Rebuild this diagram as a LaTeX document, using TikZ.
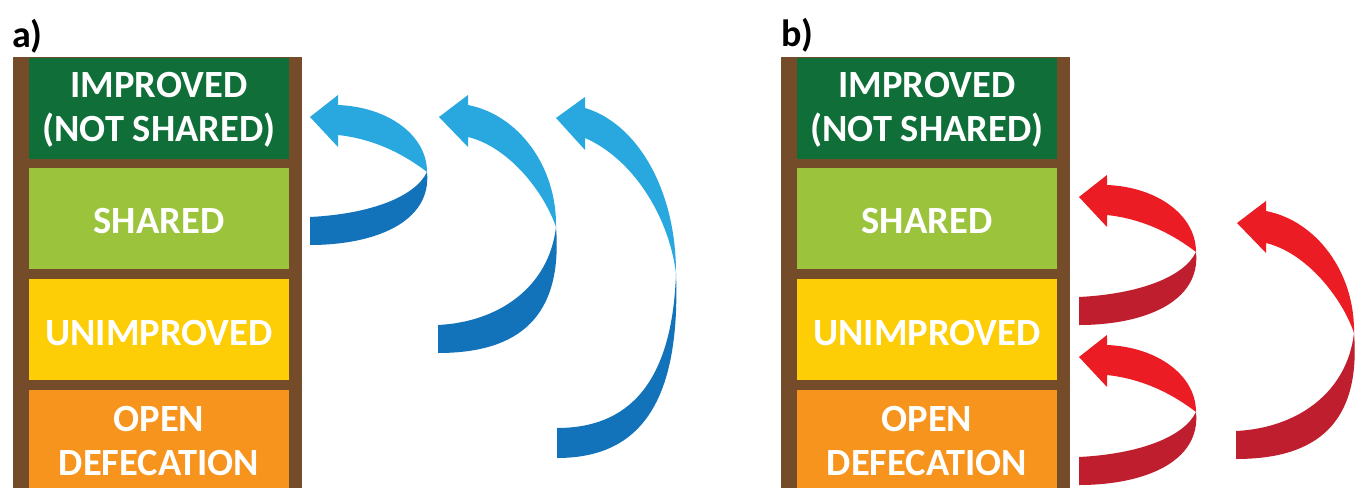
\documentclass[tikz,border=0pt]{standalone}
\usepackage{fontspec}
\setmainfont{Carlito}
\definecolor{brownR}{HTML}{754C29}
\definecolor{dgreen}{HTML}{106F38}
\definecolor{lgreen}{HTML}{9CC33C}
\definecolor{yellowB}{HTML}{FDCD06}
\definecolor{orangeB}{HTML}{F6941D}
\definecolor{blueL}{HTML}{29A8E0}
\definecolor{blueD}{HTML}{1273BA}
\definecolor{redL}{HTML}{EC1C24}
\definecolor{redD}{HTML}{BE1E2D}
\tikzset{
  box/.style={minimum width=260pt, minimum height=101pt, inner sep=0pt},
  txt/.style={inner sep=0pt, text=white, align=center,
    font=\bfseries\fontsize{38.5}{44}\selectfont},
  lbl/.style={inner sep=0pt, text=black, font=\bfseries\fontsize{38}{44}\selectfont},
  rail/.style={fill=brownR},
  blueribbon/.style={rl/.style={fill=blueL}, rd/.style={fill=blueD}},
  redribbon/.style={rl/.style={fill=redL}, rd/.style={fill=redD}},
  ribA/.pic={
    \fill[rl] (0,0) -- (28,-22) -- (28,-12) .. controls (78,-10) and (117,18) .. (117,55)
      .. controls (95,38) and (65,22) .. (28,18) -- (28,30) -- cycle;
    \fill[rd] (117,55) .. controls (105,80) and (60,97) .. (0,100) -- (0,128)
      .. controls (65,128) and (122,105) .. (117,55) -- cycle;
  },
  ribB/.pic={
    \fill[rl] (0,0) -- (29,-22) -- (29,-12) .. controls (80,-2) and (118,50) .. (117,110)
      .. controls (105,75) and (70,30) .. (29,20) -- (29,30) -- cycle;
    \fill[rd] (117,110) .. controls (110,170) and (60,205) .. (-1,208) -- (-1,236)
      .. controls (80,236) and (124,200) .. (117,110) -- cycle;
  },
  ribC/.pic={
    \fill[rl] (0,0) -- (29,-21) -- (29,-10) .. controls (80,5) and (120,70) .. (120,155)
      .. controls (112,95) and (75,40) .. (29,20) -- (29,32) -- cycle;
    \fill[rd] (120,155) .. controls (116,280) and (60,310) .. (1,310) -- (1,340)
      .. controls (80,340) and (125,290) .. (120,155) -- cycle;
  }
}
\begin{document}
\begin{tikzpicture}[x=1pt,y=-1pt]
\useasboundingbox (0,0) rectangle (1359,487);
\clip (0,0) rectangle (1359,487);
% panel a
\node[lbl] (la) at (27.5,36) {a)};
\fill[rail] (13,57) rectangle (302,500);
\node[box, fill=dgreen] (aimp) at (159,108.5) {};
\node[box, fill=lgreen] (ashr) at (159,218.7) {};
\node[box, fill=yellowB] (auni) at (159,329.3) {};
\node[box, fill=orangeB] (aopn) at (159,440.5) {};
\node[txt] (aimpT) at ([yshift=-1.5pt]aimp.center) {IMPROVED\\(NOT SHARED)};
\node[txt] (ashrT) at ([yshift=-2.5pt]ashr.center) {SHARED};
\node[txt] (auniT) at ([yshift=-4pt]auni.center) {UNIMPROVED};
\node[txt] (aopnT) at ([yshift=-0.5pt]aopn.center) {OPEN\\DEFECATION};
\pic[blueribbon] at (310,117) {ribA};
\pic[blueribbon] at (439,117) {ribB};
\pic[blueribbon] at (556,118) {ribC};
% panel b
\node[lbl] (lb) at (797.5,35) {b)};
\fill[rail] (781,57) rectangle (1070,500);
\node[box, fill=dgreen] (bimp) at (927,108.5) {};
\node[box, fill=lgreen] (bshr) at (927,218.7) {};
\node[box, fill=yellowB] (buni) at (927,329.3) {};
\node[box, fill=orangeB] (bopn) at (927,440.5) {};
\node[txt] (bimpT) at ([yshift=-1.5pt]bimp.center) {IMPROVED\\(NOT SHARED)};
\node[txt] (bshrT) at ([yshift=-2.5pt]bshr.center) {SHARED};
\node[txt] (buniT) at ([yshift=-4pt]buni.center) {UNIMPROVED};
\node[txt] (bopnT) at ([yshift=-0.5pt]bopn.center) {OPEN\\DEFECATION};
\pic[redribbon] at (1079,197) {ribA};
\pic[redribbon] at (1079,357) {ribA};
\pic[redribbon] at (1237,223) {ribB};
\end{tikzpicture}
\end{document}
